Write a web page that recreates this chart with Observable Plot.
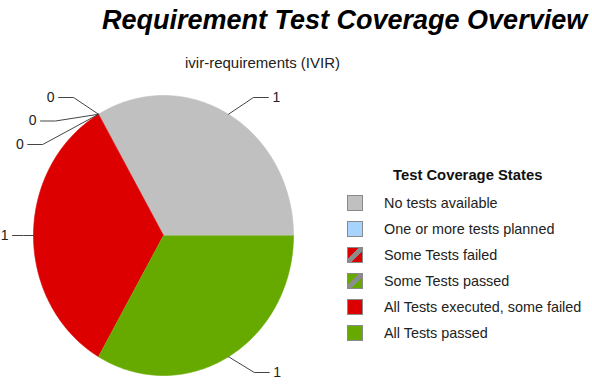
<!DOCTYPE html>
<html><head><meta charset="utf-8">
<script src="https://cdn.jsdelivr.net/npm/d3@7"></script>
<script src="https://cdn.jsdelivr.net/npm/@observablehq/plot@0.6"></script>
<style>
body{margin:0;background:#fff;font-family:"Liberation Sans",Arial,sans-serif;}
#wrap{position:relative;width:592px;height:390px;overflow:hidden;background:#fff;}
#wrap svg{position:absolute;left:0;top:0;}
.title{position:absolute;left:102px;top:7px;font-size:27px;line-height:27px;font-weight:bold;font-style:italic;color:#000;white-space:nowrap;}
.subtitle{position:absolute;left:185px;top:55px;font-size:15px;line-height:15px;color:#222;white-space:nowrap;}
.ltitle{position:absolute;left:393px;top:168px;font-size:14.8px;line-height:14.8px;font-weight:bold;color:#111;white-space:nowrap;}
.lrow{position:absolute;left:347px;height:16px;display:flex;align-items:center;font-size:14.4px;line-height:16px;color:#222;white-space:nowrap;}
.sw{width:14px;height:14px;border:1px solid #8a8a8a;box-sizing:content-box;margin-right:21px;}
</style></head><body><div id="wrap"></div>
<script>
const title = "Requirement Test Coverage Overview";
const subtitle = "ivir-requirements (IVIR)";
const legendTitle = "Test Coverage States";
const categories = ["No tests available","One or more tests planned","Some Tests failed","Some Tests passed","All Tests executed, some failed","All Tests passed"];
const values = [1, 0, 0, 0, 1, 1];
const colors = ["#c0c0c0", "#a6d4ff", "#dd0000", "#66aa00", "#dd0000", "#66aa00"];
const hatched = [false, false, true, true, false, false];

// layout constants
const CX = 163, CY = 235, RX = 130, RY = 140;   // pie ellipse (px)
const LRX = 140, LRY = 180;                       // label link ellipse
const LMIN = 97, LMAX = 372, GAP = 23.5, HSEG = 15;

const wrap = document.getElementById("wrap");
const total = d3.sum(values);
let cum = 0;
const slices = categories.map((c, i) => {
  const a0 = 90 - cum / total * 360; cum += values[i];
  const a1 = 90 - cum / total * 360;
  return {cat: c, value: values[i], a0, a1, mid: (a0 + a1) / 2, i};
});
const rad = a => a * Math.PI / 180;
const ux = px => (px - CX) / RX, uy = py => (CY - py) / RY;

// pie polygons in unit coordinates
const poly = [];
slices.filter(s => s.value > 0).forEach(s => {
  poly.push({cat: s.cat, x: 0, y: 0});
  const n = 90;
  for (let k = 0; k <= n; k++) {
    const t = rad(s.a0 + (s.a1 - s.a0) * k / n);
    poly.push({cat: s.cat, x: Math.sin(t), y: Math.cos(t)});
  }
});

// labels
const labels = slices.map(s => {
  const t = rad(s.mid);
  const side = Math.sin(t) >= -1e-9 ? 1 : -1;
  const ly = Math.max(LMIN, Math.min(LMAX, CY - LRY * Math.cos(t)));
  return {...s, ax: CX + RX * Math.sin(t), ay: CY - RY * Math.cos(t), side, ly};
});
[1, -1].forEach(side => {
  const g = labels.filter(l => l.side === side).sort((a, b) => a.ly - b.ly || a.i - b.i);
  for (let k = 1; k < g.length; k++) g[k].ly = Math.max(g[k].ly, g[k - 1].ly + GAP);
  for (let k = g.length - 1; k >= 0; k--) {
    if (k === g.length - 1) g[k].ly = Math.min(g[k].ly, LMAX);
    else g[k].ly = Math.min(g[k].ly, g[k + 1].ly - GAP);
  }
});
const links = [];
labels.forEach((l, j) => {
  const dy = (l.ly - CY) / LRY;
  const ex = CX + l.side * LRX * Math.sqrt(Math.max(0, 1 - dy * dy));
  const seg = Math.abs(l.ly - CY) < 1 ? HSEG - 4 : HSEG;
  const end = ex + l.side * seg;
  l.tx = end + l.side * 4;
  links.push({id: j, x: ux(l.ax), y: uy(l.ay)}, {id: j, x: ux(ex), y: uy(l.ly)}, {id: j, x: ux(end), y: uy(l.ly)});
});
const textData = labels.map(l => ({x: ux(l.tx), y: uy(l.ly), text: String(l.value), side: l.side}));

const chart = Plot.plot({
  width: 592, height: 390,
  marginTop: 0, marginRight: 0, marginBottom: 0, marginLeft: 0,
  x: {domain: [-1, 1], range: [CX - RX, CX + RX], axis: null},
  y: {domain: [-1, 1], range: [CY + RY, CY - RY], axis: null},
  color: {domain: categories, range: colors},
  style: {background: "transparent", fontFamily: "Liberation Sans, Arial, sans-serif"},
  marks: [
    Plot.line(poly, {x: "x", y: "y", z: "cat", fill: "cat", stroke: "cat", strokeWidth: 0.6}),
    Plot.line(links, {x: "x", y: "y", z: "id", stroke: "#444", strokeWidth: 1}),
    Plot.text(textData.filter(d => d.side > 0), {x: "x", y: "y", text: "text", textAnchor: "start", fontSize: 14, fill: "#222"}),
    Plot.text(textData.filter(d => d.side < 0), {x: "x", y: "y", text: "text", textAnchor: "end", fontSize: 14, fill: "#222"})
  ]
});
wrap.appendChild(chart);

function add(cls, txt) { const d = document.createElement("div"); d.className = cls; d.textContent = txt; wrap.appendChild(d); return d; }
add("title", title);
add("subtitle", subtitle);
add("ltitle", legendTitle);
categories.forEach((c, i) => {
  const row = document.createElement("div");
  row.className = "lrow";
  row.style.top = (194.5 + i * 26.1) + "px";
  const sw = document.createElement("div");
  sw.className = "sw";
  sw.style.background = hatched[i]
    ? `linear-gradient(to bottom right, ${colors[i]} 0%, ${colors[i]} 36%, #8c8c8c 36%, #8c8c8c 62%, ${colors[i]} 62%)`
    : colors[i];
  row.appendChild(sw);
  const t = document.createElement("span");
  t.textContent = c;
  row.appendChild(t);
  wrap.appendChild(row);
});
</script></body></html>
